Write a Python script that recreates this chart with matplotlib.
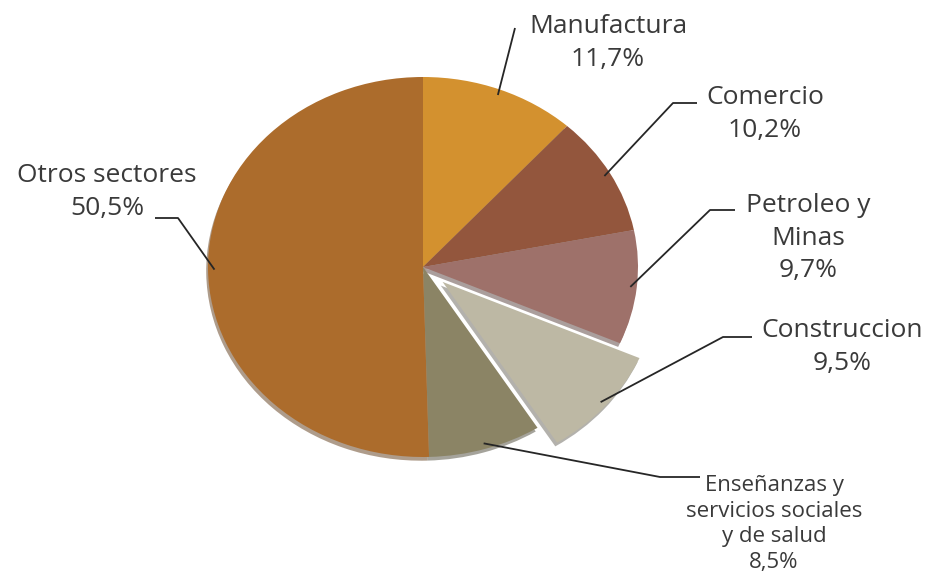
import numpy as np
import matplotlib
matplotlib.use('Agg')
import matplotlib.pyplot as plt

plt.rcParams['font.family'] = ['Open Sans', 'DejaVu Sans']

# participación por sector (%)
sectores = ['Manufactura', 'Comercio', 'Petroleo y\nMinas', 'Construccion',
            'Enseñanzas y\nservicios sociales\ny de salud', 'Otros sectores']
valores = [11.7, 10.2, 9.7, 9.5, 8.5, 50.5]
colores = ['#D3912F', '#93563D', '#9E716A', '#BDB8A4', '#8B8465', '#AC6C2C']
separar = [0, 0, 0, 0.12, 0, 0]

W, H = 933, 578
cx, cy = 423, 267      # centro de la torta en px
rx, ry = 215, 190      # radios horizontal / vertical en px

fig = plt.figure(figsize=(W / 100, H / 100), dpi=100)
ax = fig.add_axes([0, 0, 1, 1])

wedges, _ = ax.pie(valores, colors=colores, explode=separar, startangle=90,
                   counterclock=False, radius=1,
                   wedgeprops=dict(linewidth=0),
                   shadow=dict(ox=-0.006, oy=-0.014, shade=0.45))
ax.set_aspect('auto')
ax.set_xlim(-cx / rx, (W - cx) / rx)
ax.set_ylim(-(H - cy) / ry, cy / ry)
ax.axis('off')


def px(x, y):
    # px de la imagen -> coordenadas de datos
    return (x - cx) / rx, (cy - y) / ry


# posiciones de las etiquetas: (texto x, texto y, tamaño, interlineado, codo, final de la guía)
etiq = [
    (608, 43, 19, 1.38, None, (515, 28)),
    (765, 114, 19, 1.38, (673, 103), (697, 103)),
    (808, 238, 19, 1.38, (710, 210), (735, 210)),
    (842, 347, 19, 1.38, (723, 337), (752, 337)),
    (774, 524, 16, 1.31, (660, 477), (700, 477)),
    (107, 192, 19, 1.38, (178, 218), (155, 218)),
]

for w, sec, val, (tx, ty, fs, ls, codo, fin) in zip(wedges, sectores, valores, etiq):
    ang = np.deg2rad((w.theta1 + w.theta2) / 2)
    r = w.r * (0.97 if w.r > 0 else 1)
    ox, oy = w.center
    punta = (ox + r * np.cos(ang), oy + r * np.sin(ang))
    pts = [punta]
    if codo is not None:
        pts.append(px(*codo))
    pts.append(px(*fin))
    xs, ys = zip(*pts)
    ax.plot(xs, ys, color='#262626', lw=1.3, solid_capstyle='butt')
    etiqueta = sec + '\n' + f'{val:.1f}%'.replace('.', ',')
    ax.text(*px(tx, ty), etiqueta, ha='center', va='center', fontsize=fs,
            color='#3a3a3a', linespacing=ls)

fig.savefig('out.png', dpi=100, facecolor='white')
